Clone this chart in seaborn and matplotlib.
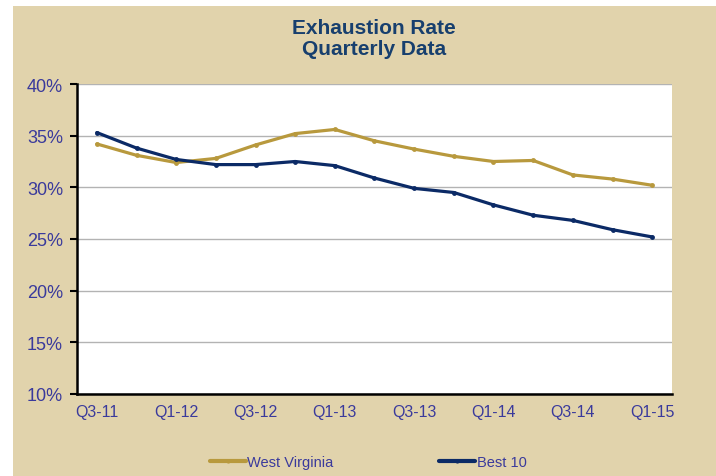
import matplotlib
matplotlib.use("Agg")
import matplotlib.pyplot as plt
import numpy as np
import pandas as pd
import seaborn as sns
from matplotlib.patches import Rectangle
from matplotlib.ticker import FixedLocator, PercentFormatter

quarters = ["Q3-11", "Q4-11", "Q1-12", "Q2-12", "Q3-12", "Q4-12", "Q1-13", "Q2-13",
            "Q3-13", "Q4-13", "Q1-14", "Q2-14", "Q3-14", "Q4-14", "Q1-15"]
west_virginia = [34.2, 33.1, 32.4, 32.8, 34.1, 35.2, 35.6, 34.5,
                 33.7, 33.0, 32.5, 32.6, 31.2, 30.8, 30.2]
best_10 = [35.3, 33.8, 32.7, 32.2, 32.2, 32.5, 32.1, 30.9,
           29.9, 29.5, 28.3, 27.3, 26.8, 25.9, 25.2]
series_names = ["West Virginia", "Best 10"]
label_every = 2

gold = "#B8993D"
navy = "#0B2A66"
tick_blue = "#3A3A9C"
title_blue = "#173F6E"
beige = "#E1D3AC"

df = pd.DataFrame({
    "quarter": quarters * 2,
    "pos": list(range(len(quarters))) * 2,
    "rate": west_virginia + best_10,
    "series": [series_names[0]] * len(quarters) + [series_names[1]] * len(quarters),
})

sns.set_style("white")
plt.rcParams["font.family"] = ["Liberation Sans", "DejaVu Sans"]

fig = plt.figure(figsize=(7.16, 4.77), dpi=100)
fig.patch.set_facecolor("white")
# beige panel behind the chart
fig.patches.append(Rectangle((13 / 716, 0), 1, 1 - 7 / 477, transform=fig.transFigure,
                             facecolor=beige, edgecolor="none", zorder=-10))

ax = fig.add_axes([77 / 716, 1 - 395 / 477, 595 / 716, 310 / 477])
ax.set_facecolor("white")

sns.lineplot(data=df, x="pos", y="rate", hue="series", palette=[gold, navy],
             marker="o", markersize=3.5, markeredgewidth=0, linewidth=2.3,
             sort=False, legend=False, ax=ax, zorder=3)

ax.set_xlim(-0.5, len(quarters) - 0.5)
ax.set_ylim(10, 40)
ax.set_yticks(np.arange(10, 41, 5))
ax.yaxis.set_major_formatter(PercentFormatter(decimals=0))
ax.grid(axis="y", color="#B3B3B3", linewidth=1.0, zorder=0)
ax.grid(axis="x", visible=False)

label_pos = list(range(0, len(quarters), label_every))
ax.set_xticks(label_pos)
ax.set_xticklabels([quarters[i] for i in label_pos])
ax.xaxis.set_minor_locator(FixedLocator(np.arange(-0.5, len(quarters), 1.0)))
ax.tick_params(axis="x", which="major", length=0, pad=7, labelsize=11.5, labelcolor=tick_blue)
ax.tick_params(axis="x", which="minor", length=5, width=1.5, color="black", direction="out")
ax.tick_params(axis="y", which="major", length=5, width=1.5, color="black", direction="out",
               left=True, pad=5, labelsize=13, labelcolor=tick_blue)

for side in ["top", "right"]:
    ax.spines[side].set_visible(False)
for side in ["left", "bottom"]:
    ax.spines[side].set_color("black")
    ax.spines[side].set_linewidth(1.8)

ax.set_xlabel("")
ax.set_ylabel("")

fig.text(374 / 716, 1 - 39 / 477, "Exhaustion Rate\nQuarterly Data", ha="center", va="center",
         fontsize=15, fontweight="bold", color=title_blue, linespacing=1.12)

handles = [plt.Line2D([], [], color=c, linewidth=3, marker="o", markersize=3, markeredgewidth=0)
           for c in [gold, navy]]
fig.legend(handles, series_names, loc="center", bbox_to_anchor=(368 / 716, 1 - 463 / 477),
           ncol=2, frameon=False, fontsize=10.5, handlelength=2.5, handletextpad=0.1,
           columnspacing=7.2, labelcolor=tick_blue)

fig.savefig("out.png", dpi=100, facecolor=fig.get_facecolor())
